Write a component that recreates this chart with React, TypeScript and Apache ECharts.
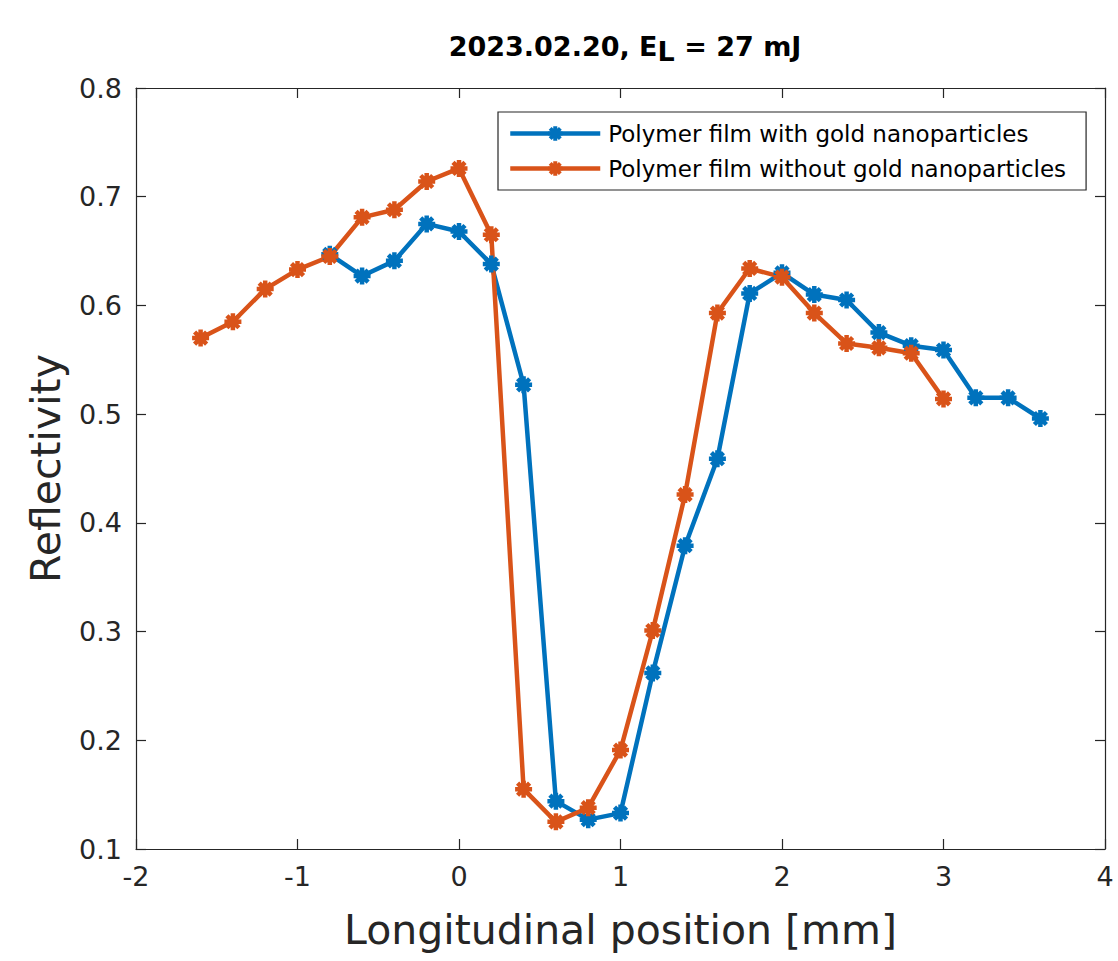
import React, { useEffect, useRef } from "react";
import * as echarts from "echarts";

const positionsWith = [-0.8, -0.6, -0.4, -0.2, 0, 0.2, 0.4, 0.6, 0.8, 1.0, 1.2, 1.4, 1.6, 1.8, 2.0, 2.2, 2.4, 2.6, 2.8, 3.0, 3.2, 3.4, 3.6];
const reflWith = [0.647, 0.627, 0.641, 0.675, 0.668, 0.638, 0.527, 0.144, 0.127, 0.133, 0.262, 0.379, 0.459, 0.611, 0.630, 0.610, 0.605, 0.575, 0.563, 0.559, 0.515, 0.515, 0.496];

const positionsWithout = [-1.6, -1.4, -1.2, -1.0, -0.8, -0.6, -0.4, -0.2, 0, 0.2, 0.4, 0.6, 0.8, 1.0, 1.2, 1.4, 1.6, 1.8, 2.0, 2.2, 2.4, 2.6, 2.8, 3.0];
const reflWithout = [0.570, 0.585, 0.615, 0.633, 0.645, 0.681, 0.688, 0.714, 0.726, 0.665, 0.155, 0.125, 0.138, 0.191, 0.301, 0.426, 0.593, 0.634, 0.626, 0.593, 0.565, 0.561, 0.556, 0.514];

const seriesNames = ["Polymer film with gold nanoparticles", "Polymer film without gold nanoparticles"];
const xTicks = [-2, -1, 0, 1, 2, 3, 4];
const yTicks = [0.1, 0.2, 0.3, 0.4, 0.5, 0.6, 0.7, 0.8];

const FONT = "'DejaVu Sans', sans-serif";
const AXIS_COLOR = "#262626";
const STAR = "path://M0,-1L0,1M-1,0L1,0M-0.7071,-0.7071L0.7071,0.7071M-0.7071,0.7071L0.7071,-0.7071";

export default function App() {
  const ref = useRef<HTMLDivElement>(null);
  useEffect(() => {
    document.body.style.margin = "0";
    const chart = echarts.init(ref.current!, null, { renderer: "svg" });
    const mk = (name: string, xs: number[], ys: number[], color: string) => ({
      name,
      type: "line",
      data: xs.map((x, i) => [x, ys[i]]),
      symbol: STAR,
      symbolSize: 17,
      symbolKeepAspect: true,
      lineStyle: { color, width: 4.5 },
      itemStyle: { color, borderColor: color, borderWidth: 4.5 },
      emphasis: { disabled: true },
      z: 3,
    });
    const tickAxisCommon = {
      axisLine: { show: true, onZero: false, lineStyle: { color: AXIS_COLOR, width: 1.2 } },
      axisTick: { show: true, inside: true, length: 10, lineStyle: { color: AXIS_COLOR, width: 1.2 } },
      splitLine: { show: false },
    };
    chart.setOption({
      animation: false,
      backgroundColor: "#fff",
      title: {
        text: "{n|2023.02.20, E}{sub|L}{n| = 27 mJ}",
        left: 620,
        textAlign: "center",
        top: 28,
        textStyle: {
          fontFamily: FONT,
          fontSize: 27,
          fontWeight: "bold",
          color: "#000",
          rich: {
            n: { fontFamily: FONT, fontSize: 27, fontWeight: "bold", color: "#000", lineHeight: 32, verticalAlign: "top" },
            sub: { fontFamily: FONT, fontSize: 27, fontWeight: "bold", color: "#000", lineHeight: 32, verticalAlign: "bottom", padding: [15, 0, 0, 0] },
          },
        },
      },
      legend: {
        left: 498,
        top: 112,
        orient: "vertical",
        itemWidth: 90,
        itemHeight: 18,
        itemGap: 12,
        padding: [10, 20, 10, 10],
        borderColor: AXIS_COLOR,
        borderWidth: 1.2,
        backgroundColor: "#fff",
        data: seriesNames,
        lineStyle: { width: 4.5 },
        itemStyle: { borderWidth: 4 },
        textStyle: { fontFamily: FONT, fontSize: 23, color: "#000", padding: [0, 0, 0, 3] },
      },
      grid: { left: 136, right: 13, top: 88, bottom: 112, containLabel: false },
      xAxis: [
        {
          type: "value",
          min: -2,
          max: 4,
          interval: 1,
          name: "Longitudinal position [mm]",
          nameLocation: "middle",
          nameGap: 60,
          nameTextStyle: { fontFamily: FONT, fontSize: 41, color: AXIS_COLOR },
          axisLabel: {
            fontFamily: FONT,
            fontSize: 27,
            color: AXIS_COLOR,
            margin: 14,
            formatter: (v: number) => (xTicks.includes(v) ? String(v) : ""),
          },
          ...tickAxisCommon,
        },
        {
          type: "value",
          position: "top",
          min: -2,
          max: 4,
          interval: 1,
          axisLabel: { show: false },
          ...tickAxisCommon,
        },
      ],
      yAxis: [
        {
          type: "value",
          min: 0.1,
          max: 0.8,
          interval: 0.1,
          name: "Reflectivity",
          nameLocation: "middle",
          nameGap: 70,
          nameTextStyle: { fontFamily: FONT, fontSize: 41, color: AXIS_COLOR },
          axisLabel: {
            fontFamily: FONT,
            fontSize: 27,
            color: AXIS_COLOR,
            margin: 14,
            formatter: (v: number) => {
              const t = yTicks.find((y) => Math.abs(y - v) < 1e-6);
              return t !== undefined ? t.toFixed(1) : "";
            },
          },
          ...tickAxisCommon,
        },
        {
          type: "value",
          position: "right",
          min: 0.1,
          max: 0.8,
          interval: 0.1,
          axisLabel: { show: false },
          ...tickAxisCommon,
        },
      ],
      series: [
        mk(seriesNames[0], positionsWith, reflWith, "#0072BD"),
        mk(seriesNames[1], positionsWithout, reflWithout, "#D95319"),
      ],
    });
    return () => chart.dispose();
  }, []);
  return <div ref={ref} style={{ width: 1118, height: 961 }} />;
}
